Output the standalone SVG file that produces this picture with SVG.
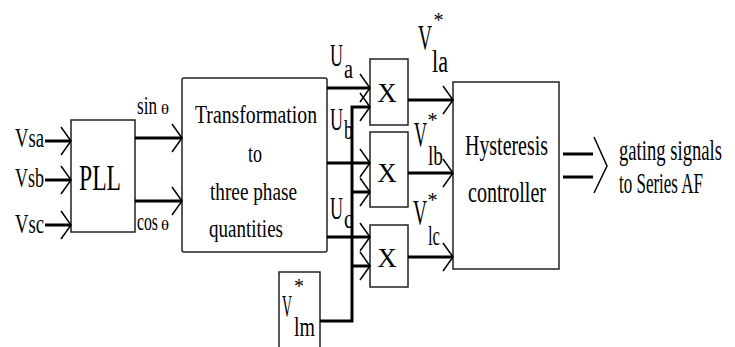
<svg xmlns="http://www.w3.org/2000/svg" width="735" height="347" viewBox="0 0 735 347">
<defs>
<style>
text{font-family:"Liberation Serif","Times New Roman",serif;fill:#000}
.box{fill:#fff;stroke:#222;stroke-width:1.5}
.w{fill:none;stroke:#000;stroke-width:3}
.ch{fill:none;stroke:#000;stroke-width:1.5}
</style>
<marker id="arr" markerUnits="userSpaceOnUse" markerWidth="24" markerHeight="32" viewBox="-12 -16 24 32" refX="0" refY="0" orient="auto">
<path d="M-10,-14 L0,0 L-10,14" fill="none" stroke="#000" stroke-width="1.5"/>
</marker>
</defs>
<rect width="735" height="347" fill="#fff"/>

<g id="inputs">
<text x="15" y="147" font-size="28" textLength="29" lengthAdjust="spacingAndGlyphs">Vsa</text>
<text x="15" y="187" font-size="28" textLength="29" lengthAdjust="spacingAndGlyphs">Vsb</text>
<text x="15" y="233" font-size="28" textLength="29" lengthAdjust="spacingAndGlyphs">Vsc</text>
</g>

<g id="pll">
<rect class="box" x="71" y="120" width="64" height="112"/>
<text x="79" y="190" font-size="35" textLength="42" lengthAdjust="spacingAndGlyphs">PLL</text>
</g>

<g id="transform">
<rect class="box" x="182" y="78" width="145" height="174" rx="2"/>
<text x="195" y="123" font-size="25" textLength="122" lengthAdjust="spacingAndGlyphs">Transformation</text>
<text x="248" y="162" font-size="25" textLength="14" lengthAdjust="spacingAndGlyphs">to</text>
<text x="210" y="200" font-size="25" textLength="87" lengthAdjust="spacingAndGlyphs">three phase</text>
<text x="209" y="237" font-size="25" textLength="74" lengthAdjust="spacingAndGlyphs">quantities</text>
</g>

<g id="mult1">
<rect class="box" x="370" y="59" width="38" height="66"/>
<text x="387" y="102" font-size="27" text-anchor="middle">X</text>
</g>
<g id="mult2">
<rect class="box" x="370" y="132" width="38" height="75"/>
<text x="387" y="182" font-size="27" text-anchor="middle">X</text>
</g>
<g id="mult3">
<rect class="box" x="370" y="225" width="38" height="62"/>
<text x="387" y="267" font-size="27" text-anchor="middle">X</text>
</g>

<g id="vlm">
<rect class="box" x="279" y="272" width="41" height="90"/>
<text x="282" y="317" font-size="31" textLength="10" lengthAdjust="spacingAndGlyphs">V</text>
<text x="299" y="293" font-size="20" text-anchor="middle">*</text>
<text x="294" y="336" font-size="28" textLength="21" lengthAdjust="spacingAndGlyphs">lm</text>
</g>

<g id="hysteresis">
<rect class="box" x="453" y="82" width="106" height="187"/>
<text x="465" y="155" font-size="29" textLength="83" lengthAdjust="spacingAndGlyphs">Hysteresis</text>
<text x="468" y="202" font-size="29" textLength="78" lengthAdjust="spacingAndGlyphs">controller</text>
</g>

<g id="output">
<text x="619" y="160" font-size="30" textLength="103" lengthAdjust="spacingAndGlyphs">gating signals</text>
<text x="619" y="193" font-size="30" textLength="84" lengthAdjust="spacingAndGlyphs">to Series AF</text>
</g>

<g id="connectors">
<path class="w" d="M45,141 H71" marker-end="url(#arr)"/>
<path class="w" d="M45,180 H71" marker-end="url(#arr)"/>
<path class="w" d="M45,225 H71" marker-end="url(#arr)"/>
<path class="w" d="M135,138 H182" marker-end="url(#arr)"/>
<path class="w" d="M135,201 H182" marker-end="url(#arr)"/>
<path class="w" d="M327,88 H370" marker-end="url(#arr)"/>
<path class="w" d="M327,163 H370" marker-end="url(#arr)"/>
<path class="w" d="M327,237 H370" marker-end="url(#arr)"/>
<path class="w" d="M320,321 H352 V107 H370" marker-end="url(#arr)"/>
<path class="w" d="M352,192 H370" marker-end="url(#arr)"/>
<path class="w" d="M352,266 H370" marker-end="url(#arr)"/>
<path class="w" d="M408,100 H453" marker-end="url(#arr)"/>
<path class="w" d="M408,173 H453" marker-end="url(#arr)"/>
<path class="w" d="M408,257 H453" marker-end="url(#arr)"/>
<path class="w" d="M563,154 H593 M563,177 H593"/>
<path class="ch" d="M594,137 L607,166 L594,193"/>
</g>

<g id="labels">
<text x="137" y="114" font-size="25" textLength="20" lengthAdjust="spacingAndGlyphs">sin</text>
<text x="161" y="114" font-size="15" textLength="8" lengthAdjust="spacingAndGlyphs">θ</text>
<text x="137" y="230" font-size="25" textLength="21" lengthAdjust="spacingAndGlyphs">cos</text>
<text x="161" y="230" font-size="15" textLength="8" lengthAdjust="spacingAndGlyphs">θ</text>

<text x="330" y="66" font-size="31" textLength="13" lengthAdjust="spacingAndGlyphs">U</text>
<text x="344" y="78" font-size="27" textLength="9" lengthAdjust="spacingAndGlyphs">a</text>
<text x="330" y="130" font-size="31" textLength="13" lengthAdjust="spacingAndGlyphs">U</text>
<text x="344" y="139" font-size="27" textLength="9" lengthAdjust="spacingAndGlyphs">b</text>
<text x="330" y="219" font-size="31" textLength="13" lengthAdjust="spacingAndGlyphs">U</text>
<text x="344" y="228" font-size="27" textLength="9" lengthAdjust="spacingAndGlyphs">c</text>

<text x="418" y="50" font-size="35" textLength="14" lengthAdjust="spacingAndGlyphs">V</text>
<text x="438.5" y="27" font-size="20" text-anchor="middle">*</text>
<text x="432" y="72" font-size="31" textLength="16" lengthAdjust="spacingAndGlyphs">la</text>

<text x="414" y="147" font-size="35" textLength="13" lengthAdjust="spacingAndGlyphs">V</text>
<text x="432.5" y="127" font-size="20" text-anchor="middle">*</text>
<text x="428" y="165" font-size="28" textLength="15" lengthAdjust="spacingAndGlyphs">lb</text>

<text x="413" y="225" font-size="35" textLength="14" lengthAdjust="spacingAndGlyphs">V</text>
<text x="432.5" y="207" font-size="20" text-anchor="middle">*</text>
<text x="428" y="245" font-size="28" textLength="12" lengthAdjust="spacingAndGlyphs">lc</text>
</g>
</svg>
